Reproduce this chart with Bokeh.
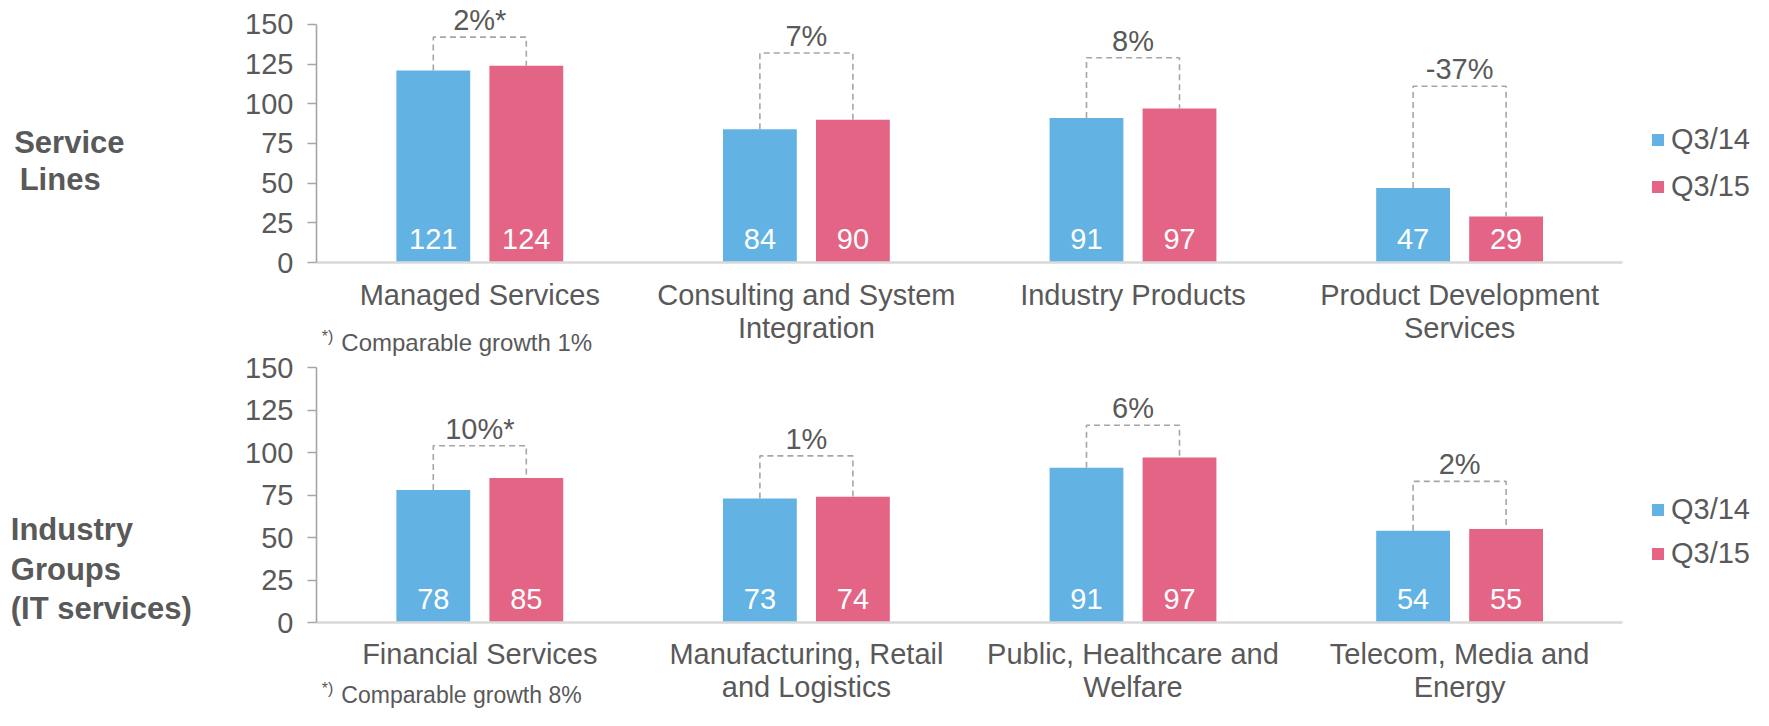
from bokeh.plotting import figure
from bokeh.models import (Range1d, FixedTicker, Legend, LegendItem,
                          ColumnDataSource, LinearAxis)
from bokeh.core.properties import value
from bokeh.embed import file_html
from bokeh.resources import INLINE

# ---------------- data ----------------
series = ["Q3/14", "Q3/15"]
y_ticks = [0, 25, 50, 75, 100, 125, 150]

top_cats = ["Managed Services", "Consulting and System\nIntegration",
            "Industry Products", "Product Development\nServices"]
top_q314 = [121, 84, 91, 47]
top_q315 = [124, 90, 97, 29]
top_growth = ["2%*", "7%", "8%", "-37%"]
top_bracket = [142, 132, 129, 111]
top_side = ["Service", "Lines"]
top_note = "Comparable growth 1%"

bot_cats = ["Financial Services", "Manufacturing, Retail\nand Logistics",
            "Public, Healthcare and\nWelfare", "Telecom, Media and\nEnergy"]
bot_q314 = [78, 73, 91, 54]
bot_q315 = [85, 74, 97, 55]
bot_growth = ["10%*", "1%", "6%", "2%"]
bot_bracket = [104, 98, 116, 83]
bot_side = ["Industry", "Groups", "(IT services)"]
bot_note = "Comparable growth 8%"

# ---------------- style ----------------
FONT = "Liberation Sans"
GRAY = "#595959"
BLUE = "#62B3E4"
PINK = "#E46485"
DASH = "#A6A6A6"
OFF = 0.1424
BW = 0.226
W, H = 1753, 710

p = figure(width=W, height=H, x_range=Range1d(-1.46754, 3.89988),
           y_range=Range1d(-282.2, 165.04), output_backend="svg",
           toolbar_location=None, min_border=0)
p.extra_y_ranges = {"bot": Range1d(-51.76, 365.88)}
p.outline_line_color = None
p.xgrid.visible = False
p.ygrid.visible = False


def style_x(ax, cats, standoff):
    ax.ticker = FixedTicker(ticks=list(range(len(cats))))
    ax.major_label_overrides = {i: c for i, c in enumerate(cats)}
    ax.bounds = (-0.5, 3.5)
    ax.fixed_location = 0
    ax.axis_line_color = "#D9D9D9"
    ax.axis_line_width = 2.5
    ax.major_tick_line_color = None
    ax.minor_tick_line_color = None
    ax.major_tick_out = 0
    ax.major_tick_in = 0
    ax.major_label_standoff = standoff
    ax.major_label_text_font = FONT
    ax.major_label_text_font_size = "29px"
    ax.major_label_text_color = GRAY
    ax.major_label_text_line_height = 1.05


def style_y(ax):
    ax.ticker = FixedTicker(ticks=y_ticks)
    ax.bounds = (0, 150)
    ax.fixed_location = -0.5
    ax.axis_line_color = "#A6A6A6"
    ax.axis_line_width = 1.6
    ax.major_tick_line_color = "#A6A6A6"
    ax.major_tick_line_width = 1.6
    ax.major_tick_out = 9
    ax.major_tick_in = 0
    ax.minor_tick_line_color = None
    ax.major_label_standoff = 14
    ax.major_label_text_font = FONT
    ax.major_label_text_font_size = "29px"
    ax.major_label_text_color = GRAY


def panel(rng, cats, a, b, growth, bracket, note, side, side_y, side_x,
          note_y, note_size, leg_vy, leg_sp):
    idx = list(range(len(cats)))
    src = ColumnDataSource(dict(
        x=idx, xa=[i - OFF for i in idx], xb=[i + OFF for i in idx],
        a=a, b=b, la=[str(v) for v in a], lb=[str(v) for v in b],
        g=growth, lvl=bracket))
    kw = {} if rng == "default" else {"y_range_name": rng}

    ra = p.vbar(x="xa", top="a", width=BW, source=src, fill_color=BLUE,
                line_color=None, **kw)
    rb = p.vbar(x="xb", top="b", width=BW, source=src, fill_color=PINK,
                line_color=None, **kw)

    xs = [[i - OFF, i - OFF, i + OFF, i + OFF] for i in idx]
    ys = [[a[i], bracket[i], bracket[i], b[i]] for i in idx]
    p.multi_line(xs, ys, line_color=DASH, line_width=1.6, line_dash="6 4", **kw)

    common = dict(text_font=value(FONT), text_font_size="29px",
                  text_align="center", text_baseline="middle")
    p.text(x="xa", y=0, text="la", source=src, y_offset=-24,
           text_color="white", **common, **kw)
    p.text(x="xb", y=0, text="lb", source=src, y_offset=-24,
           text_color="white", **common, **kw)
    p.text(x="x", y="lvl", text="g", source=src, y_offset=-17,
           text_color=GRAY, **common, **kw)

    # side labels
    p.text(x=side_x, y=side_y, text=side, text_font=value(FONT),
           text_font_size="31px", text_font_style="bold", text_color=GRAY,
           text_align="left", text_baseline="middle", **kw)
    # footnote
    p.text(x=[-0.484], y=[note_y + 3.6], text=["*)"], text_font=value(FONT),
           text_font_size="16px", text_color=GRAY, text_align="left",
           text_baseline="middle", **kw)
    p.text(x=[-0.424], y=[note_y], text=[note], text_font=value(FONT),
           text_font_size=note_size, text_color=GRAY, text_align="left",
           text_baseline="middle", **kw)

    legend = Legend(items=[LegendItem(label=series[0], renderers=[ra]),
                           LegendItem(label=series[1], renderers=[rb])],
                    location=(1650, leg_vy), margin=0, padding=0,
                    spacing=leg_sp, glyph_width=15, glyph_height=15,
                    label_height=34, label_standoff=6,
                    label_text_font=FONT, label_text_font_size="29px",
                    label_text_color=GRAY, border_line_alpha=0,
                    background_fill_alpha=0)
    p.add_layout(legend)


# top panel: default axes
style_x(p.xaxis[0], top_cats, 16)
style_y(p.yaxis[0])
panel("default", top_cats, top_q314, top_q315, top_growth, top_bracket,
      top_note, top_side, [75.6, 52.0], [-1.4256, -1.4088], -50.4, "24px",
      leg_vy=507, leg_sp=13)

# bottom panel: own axes on the "bot" range
bx = LinearAxis(y_range_name="bot")
style_x(bx, bot_cats, 15)
p.add_layout(bx, "below")
by = LinearAxis(y_range_name="bot")
style_y(by)
p.add_layout(by, "left")
panel("bot", bot_cats, bot_q314, bot_q315, bot_growth, bot_bracket,
      bot_note, bot_side, [54.7, 31.2, 8.2], [-1.436, -1.436, -1.436], -42.6,
      "23px", leg_vy=140, leg_sp=10)

open("out.html", "w").write(file_html(p, INLINE))
